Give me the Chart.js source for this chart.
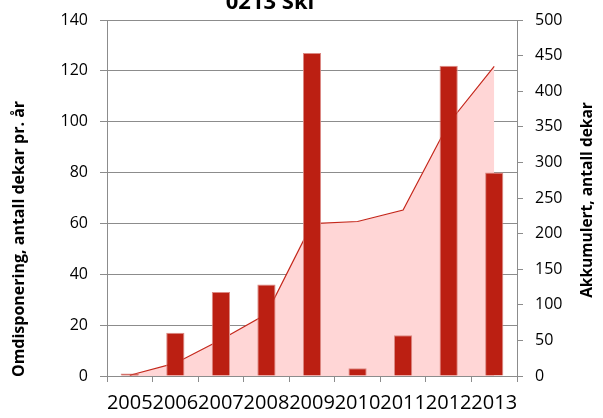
<!DOCTYPE html>
<html>
<head>
<meta charset="utf-8">
<script src="https://cdn.jsdelivr.net/npm/chart.js@4"></script>
<style>
  html, body { margin: 0; padding: 0; background: #fff; overflow: hidden; }
  #wrap { width: 603px; height: 418px; position: relative; }
</style>
</head>
<body>
<div id="wrap"><canvas id="myChart" width="603" height="418"></canvas></div>
<script>
const years = ["2005", "2006", "2007", "2008", "2009", "2010", "2011", "2012", "2013"];
// omdisponert per år (venstre akse)
const perYear = [1, 17, 33, 36, 127, 3, 16, 122, 80];
// akkumulert (høyre akse)
const accumulated = [1, 18, 51, 87, 214, 217, 233, 355, 435];
const leftTicks = [0, 20, 40, 60, 80, 100, 120, 140];
const rightTicks = [0, 50, 100, 150, 200, 250, 300, 350, 400, 450, 500];

const gridGray = "#8c8c8c";
const font = "'Open Sans', 'Liberation Sans', sans-serif";

// tittel + aksetitler tegnes for hånd (tittelen er kuttet i toppen, begge aksetitler leses nedenfra)
const textPlugin = {
  id: "extraText",
  afterDraw(chart) {
    const ctx = chart.ctx;
    ctx.save();
    ctx.fillStyle = "#000";
    ctx.textAlign = "center";
    ctx.textBaseline = "alphabetic";
    ctx.font = "bold 22px " + font;
    ctx.fillText("0213 Ski", 270, 9);

    ctx.textBaseline = "middle";
    ctx.save();
    ctx.font = "bold 16px " + font;
    ctx.translate(19, 239);
    ctx.rotate(-Math.PI / 2);
    ctx.fillText("Omdisponering, antall dekar pr. år", 0, 0);
    ctx.restore();
    ctx.save();
    ctx.font = "bold 15.5px " + font;
    ctx.translate(588, 200);
    ctx.rotate(-Math.PI / 2);
    ctx.fillText("Akkumulert, antall dekar", 0, 0);
    ctx.restore();
    ctx.restore();
  },
};

new Chart(document.getElementById("myChart").getContext("2d"), {
  type: "bar",
  data: {
    labels: years,
    datasets: [
      {
        type: "bar",
        label: "Omdisponering",
        data: perYear,
        yAxisID: "y",
        backgroundColor: "#bb1f12",
        borderColor: "#dc8a84",
        borderWidth: 1,
        barPercentage: 0.4,
        categoryPercentage: 1,
        order: 1,
      },
      {
        type: "line",
        label: "Akkumulert",
        data: accumulated,
        yAxisID: "y1",
        borderColor: "#c4281c",
        borderWidth: 1.2,
        backgroundColor: "#ffd6d6",
        fill: "origin",
        pointRadius: 0,
        tension: 0,
        order: 2,
      },
    ],
  },
  options: {
    responsive: false,
    animation: false,
    layout: { padding: { top: 18, left: 0, right: 0, bottom: 0 } },
    plugins: {
      legend: { display: false },
      tooltip: { enabled: false },
      title: { display: false },
    },
    scales: {
      x: {
        offset: true,
        grid: {
          offset: true,
          drawOnChartArea: false,
          color: gridGray,
          tickLength: 6,
        },
        border: { color: gridGray },
        ticks: {
          autoSkip: false,
          maxRotation: 0,
          minRotation: 0,
          padding: 9,
          color: "#000",
          font: { family: font, size: 20 },
        },
        afterFit: (s) => { s.height = 42; },
      },
      y: {
        position: "left",
        min: 0,
        max: 140,
        afterBuildTicks: (s) => { s.ticks = leftTicks.map((v) => ({ value: v })); },
        grid: { color: gridGray, tickLength: 7 },
        border: { color: gridGray },
        ticks: {
          padding: 12,
          color: "#000",
          font: { family: font, size: 16, lineHeight: 1 },
        },
        afterFit: (s) => { s.width = 107; },
      },
      y1: {
        position: "right",
        min: 0,
        max: 500,
        afterBuildTicks: (s) => { s.ticks = rightTicks.map((v) => ({ value: v })); },
        grid: { drawOnChartArea: false, color: gridGray, tickLength: 6 },
        border: { color: gridGray },
        ticks: {
          padding: 12,
          color: "#000",
          font: { family: font, size: 16, lineHeight: 1 },
        },
        afterFit: (s) => { s.width = 86; },
      },
    },
  },
  plugins: [textPlugin],
});
</script>
</body>
</html>
